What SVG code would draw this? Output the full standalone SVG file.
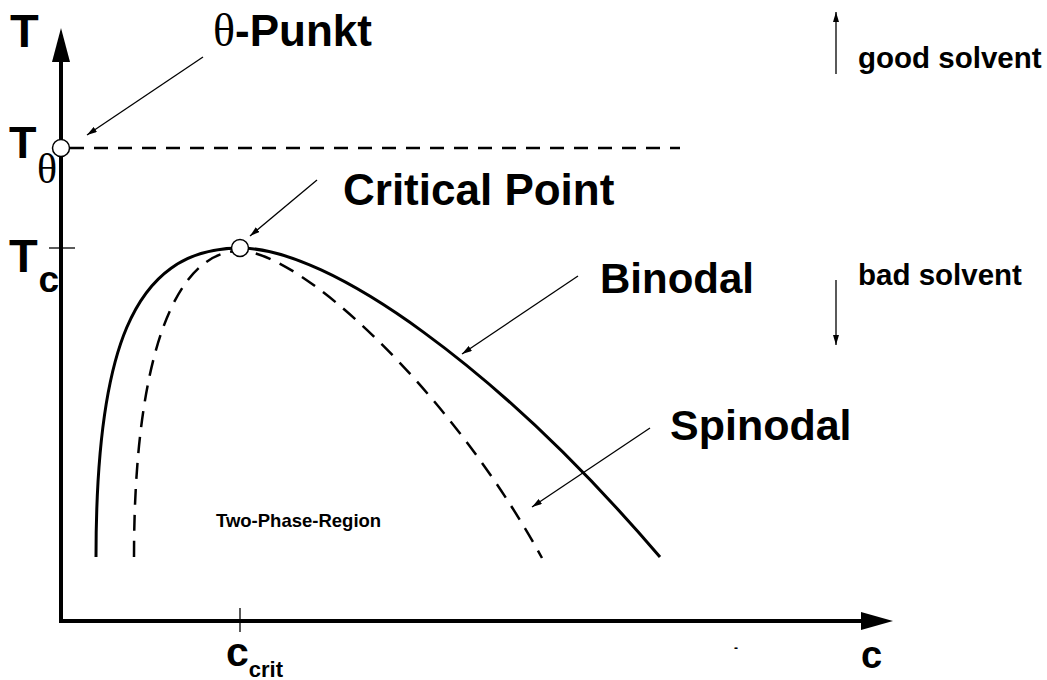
<svg xmlns="http://www.w3.org/2000/svg" width="1047" height="680" viewBox="0 0 1047 680">
<style>
.lbl{font-family:"Liberation Sans",Arial,sans-serif;font-weight:bold;fill:#000}
.ser{font-family:"Liberation Serif","Times New Roman",serif;font-weight:normal;fill:#000}
.axis{stroke:#000;stroke-width:4;fill:none}
.lead{stroke:#000;stroke-width:1.3;fill:none;marker-end:url(#ah)}
.thin{stroke:#000;stroke-width:1.3;fill:none}
.pt{fill:#fff;stroke:#000;stroke-width:1.5}
</style>
<defs>
<marker id="ah" viewBox="0 0 10 6" refX="10" refY="3" markerWidth="10" markerHeight="6" markerUnits="userSpaceOnUse" orient="auto">
<path d="M0,0 L10,3 L0,6 Z" fill="#000"/>
</marker>
</defs>
<rect width="1047" height="680" fill="#fff"/>
<g id="axes">
<polyline class="axis" points="61,60 61,621 863,621"/>
<polygon points="61,28 52,62 70,62" fill="#000"/>
<polygon points="893,621 861,612 861,630" fill="#000"/>
<line class="thin" x1="49" y1="248" x2="75" y2="248"/>
<line class="thin" x1="240" y1="608" x2="240" y2="632"/>
</g>
<g id="curves">
<line x1="70" y1="148" x2="680" y2="148" stroke="#000" stroke-width="2.3" stroke-dasharray="14 10"/>
<path id="binodal" d="M96,557 C96,357 130,248 240,248 C330,248 500,370 660,557" fill="none" stroke="#000" stroke-width="3"/>
<path id="spinodal" d="M134,557 C134,357 175,251 240,251 C300,251 450,390 542,558" fill="none" stroke="#000" stroke-width="2.5" stroke-dasharray="16 10"/>
</g>
<g id="connectors">
<line class="lead" x1="203" y1="57" x2="87" y2="135"/>
<line class="lead" x1="317" y1="180" x2="250" y2="236"/>
<line class="lead" x1="578" y1="276" x2="462" y2="354"/>
<line class="lead" x1="650" y1="428" x2="532" y2="507"/>
<line class="lead" x1="836" y1="74" x2="836" y2="12"/>
<line class="lead" x1="836" y1="280" x2="836" y2="345"/>
</g>
<g id="theta-point"><circle class="pt" cx="61" cy="148" r="8.5"/></g>
<g id="critical-point"><circle class="pt" cx="240" cy="248" r="8.5"/></g>
<g id="labels">
<text class="lbl" x="10" y="47" font-size="47">T</text>
<text x="213" y="46"><tspan class="ser" font-size="46">θ</tspan><tspan class="lbl" font-size="44">-Punkt</tspan></text>
<text class="lbl" x="9" y="158" font-size="45">T</text>
<text class="ser" x="37" y="183" font-size="42">θ</text>
<text class="lbl" x="9" y="272" font-size="47">T</text>
<text class="lbl" x="38.5" y="292" font-size="37">c</text>
<text class="lbl" x="343" y="205" font-size="44">Critical Point</text>
<text class="lbl" x="600" y="293" font-size="42">Binodal</text>
<text class="lbl" x="670" y="440" font-size="43">Spinodal</text>
<text class="lbl" x="858" y="68" font-size="29.5">good solvent</text>
<text class="lbl" x="858" y="285" font-size="29.5">bad solvent</text>
<text class="lbl" x="216" y="527" font-size="18.5">Two-Phase-Region</text>
<text x="226" y="666"><tspan class="lbl" font-size="41">c</tspan><tspan class="lbl" font-size="22" dy="11">crit</tspan></text>
<text class="lbl" x="861" y="668" font-size="38">c</text>
<text class="lbl" x="734" y="652" font-size="12" font-weight="normal">-</text>
</g>
</svg>
